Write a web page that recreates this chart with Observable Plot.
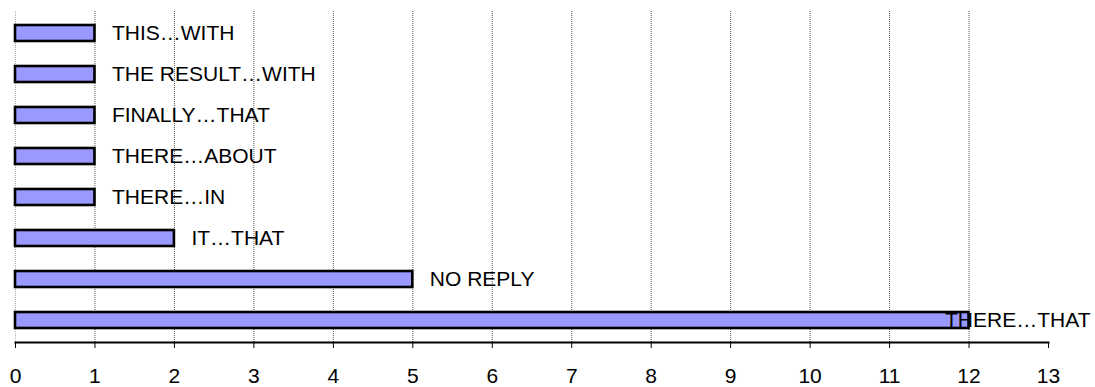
<!DOCTYPE html>
<html>
<head>
<meta charset="utf-8">
<script src="https://cdn.jsdelivr.net/npm/d3@7"></script>
<script src="https://cdn.jsdelivr.net/npm/@observablehq/plot@0.6"></script>
<style>
  html, body { margin: 0; padding: 0; background: #fff; }
</style>
</head>
<body>
<div id="chart"></div>
<script>
const categories = ["THIS…WITH", "THE RESULT…WITH", "FINALLY…THAT", "THERE…ABOUT", "THERE…IN", "IT…THAT", "NO REPLY", "THERE…THAT"];
const values = [1, 1, 1, 1, 1, 2, 5, 12];
const xTicks = [0, 1, 2, 3, 4, 5, 6, 7, 8, 9, 10, 11, 12, 13];

const data = categories.map((c, i) => ({label: c, value: values[i]}));
const xMax = 13;
const fits = data.filter(d => d.value <= 10);
const overflow = data.filter(d => d.value > 10);

const chart = Plot.plot({
  width: 1095,
  height: 387,
  marginLeft: 15,
  marginRight: 47,
  marginTop: 11,
  marginBottom: 45,
  style: {fontFamily: "'Liberation Sans', Arial, sans-serif", fontSize: "21px", background: "#fff", color: "#000"},
  x: {domain: [0, xMax], label: null},
  y: {domain: categories, paddingInner: 0.6, paddingOuter: 0.3, axis: null, label: null},
  marks: [
    Plot.ruleX([0], {stroke: "#aaa", strokeWidth: 1, strokeDasharray: "1,1"}),
    Plot.ruleX(xTicks.filter(t => t > 0 && t < xMax), {stroke: "#555", strokeWidth: 1, strokeDasharray: "1,1"}),
    Plot.barX(data, {x1: 0, x2: "value", y: "label", fill: "#9999ff", stroke: "#000", strokeWidth: 2.6}),
    Plot.text(fits, {x: "value", y: "label", text: "label", textAnchor: "start", dx: 17, fontSize: 21, fill: "#000"}),
    Plot.text(overflow, {y: "label", text: "label", frameAnchor: "right", textAnchor: "end", dx: 42, fontSize: 21, fill: "#000"}),
    Plot.frame({anchor: "bottom", stroke: "#000", strokeWidth: 2}),
    Plot.axisX({ticks: xTicks, tickSize: 6, tickPadding: 20, fontSize: 21, tickFormat: d => String(d), stroke: "#000", fill: "#000", label: null})
  ]
});
document.getElementById("chart").appendChild(chart);
</script>
</body>
</html>
